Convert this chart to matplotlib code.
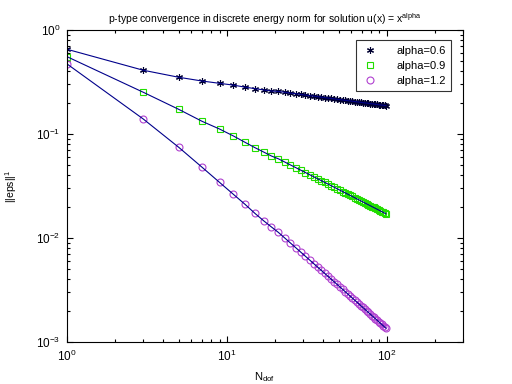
import matplotlib
matplotlib.use("Agg")
import matplotlib.pyplot as plt
from matplotlib.ticker import LogLocator, NullFormatter

plt.rcParams['font.family'] = ['Liberation Sans', 'DejaVu Sans']
plt.rcParams['mathtext.fontset'] = 'custom'
plt.rcParams['mathtext.rm'] = 'Liberation Sans'
plt.rcParams['mathtext.it'] = 'Liberation Sans'

N = list(range(1, 100, 2))

err_06 = [0.652, 0.410, 0.351, 0.323, 0.307, 0.295, 0.282, 0.273, 0.265, 0.259,
          0.2566, 0.2519, 0.2476, 0.2438, 0.2402, 0.2369, 0.2339, 0.2312, 0.2286, 0.2261,
          0.2239, 0.2217, 0.2197, 0.2178, 0.2160, 0.2142, 0.2125, 0.2109, 0.2094, 0.2080,
          0.2066, 0.2053, 0.2040, 0.2028, 0.2016, 0.2004, 0.1993, 0.1983, 0.1972, 0.1962,
          0.1952, 0.1942, 0.1933, 0.1924, 0.1915, 0.1906, 0.1898, 0.1890, 0.1883, 0.1875]

err_09 = [0.5534, 0.2518, 0.1726, 0.1324, 0.1117, 0.0957, 0.0832, 0.0739, 0.0671, 0.0615,
          0.05781, 0.05386, 0.05047, 0.04753, 0.04495, 0.04267, 0.04064, 0.03881, 0.03716, 0.03565,
          0.03428, 0.03303, 0.03187, 0.03080, 0.02980, 0.02888, 0.02802, 0.02722, 0.02647, 0.02576,
          0.02510, 0.02447, 0.02387, 0.02331, 0.02278, 0.02227, 0.02179, 0.02133, 0.02089, 0.02047,
          0.02006, 0.01968, 0.01932, 0.01897, 0.01863, 0.01831, 0.01799, 0.01769, 0.01740, 0.01713]

err_12 = [0.4710, 0.1393, 0.0745, 0.0479, 0.0343, 0.0263, 0.0211, 0.01726, 0.01466, 0.0128,
          0.01135, 0.01004, 0.008968, 0.008080, 0.007333, 0.006697, 0.006152, 0.005678, 0.005263, 0.004897,
          0.004574, 0.004286, 0.004029, 0.003797, 0.003585, 0.003394, 0.003219, 0.003059, 0.002913, 0.002778,
          0.002655, 0.002540, 0.002433, 0.002333, 0.002241, 0.002154, 0.002074, 0.001998, 0.001927, 0.001860,
          0.001797, 0.001737, 0.001681, 0.001628, 0.001578, 0.001530, 0.001484, 0.001442, 0.001401, 0.001362]

labels = ['alpha=0.6', 'alpha=0.9', 'alpha=1.2']

fig = plt.figure(figsize=(5.12, 3.84), dpi=100)
ax = fig.add_axes([0.131, 0.109, 0.773, 0.813])

line_color = '#00008b'
h1, = ax.loglog(N, err_06, linestyle='none', marker=(6, 2, 0), markersize=5,
                markeredgewidth=0.8, color='#000030', label=labels[0])
h2, = ax.loglog(N, err_09, linestyle='none', marker='s', markersize=5,
                markerfacecolor='none', markeredgecolor='#22dd00', markeredgewidth=0.8, label=labels[1])
h3, = ax.loglog(N, err_12, linestyle='none', marker='o', markersize=5,
                markerfacecolor='none', markeredgecolor='#b040d0', markeredgewidth=0.8, label=labels[2])
for s in (err_06, err_09, err_12):
    ax.loglog(N, s, color=line_color, linewidth=0.8)

ax.set_xlim(1, 300)
ax.set_ylim(1e-3, 1)

ax.xaxis.set_major_locator(LogLocator(base=10, numticks=10))
ax.yaxis.set_major_locator(LogLocator(base=10, numticks=10))
ax.xaxis.set_minor_locator(LogLocator(base=10, subs=range(2, 10), numticks=20))
ax.yaxis.set_minor_locator(LogLocator(base=10, subs=range(2, 10), numticks=20))
ax.xaxis.set_minor_formatter(NullFormatter())
ax.yaxis.set_minor_formatter(NullFormatter())
ax.tick_params(which='both', direction='in', top=True, right=True, labelsize=8.5, width=0.8)
ax.tick_params(which='major', length=4, pad=5)
ax.tick_params(which='minor', length=2)
for sp in ax.spines.values():
    sp.set_linewidth(0.8)

ax.set_title(r'p-type convergence in discrete energy norm for solution u(x) = x$^{\mathrm{alpha}}$',
             fontsize=7.5, pad=5)
ax.set_xlabel(r'N$_{\mathrm{dof}}$', fontsize=8)
ax.set_ylabel(r'||eps||$^{1}$', fontsize=7.5, labelpad=12)

leg = ax.legend(handles=[h1, h2, h3], loc='upper right', fontsize=8, frameon=True,
                fancybox=False, edgecolor='black', handlelength=1.5, borderpad=0.5,
                labelspacing=0.45, handletextpad=1.6, markerfirst=True,
                bbox_to_anchor=(0.985, 0.985))
leg.get_frame().set_linewidth(0.8)

fig.savefig('out.png', dpi=100)
